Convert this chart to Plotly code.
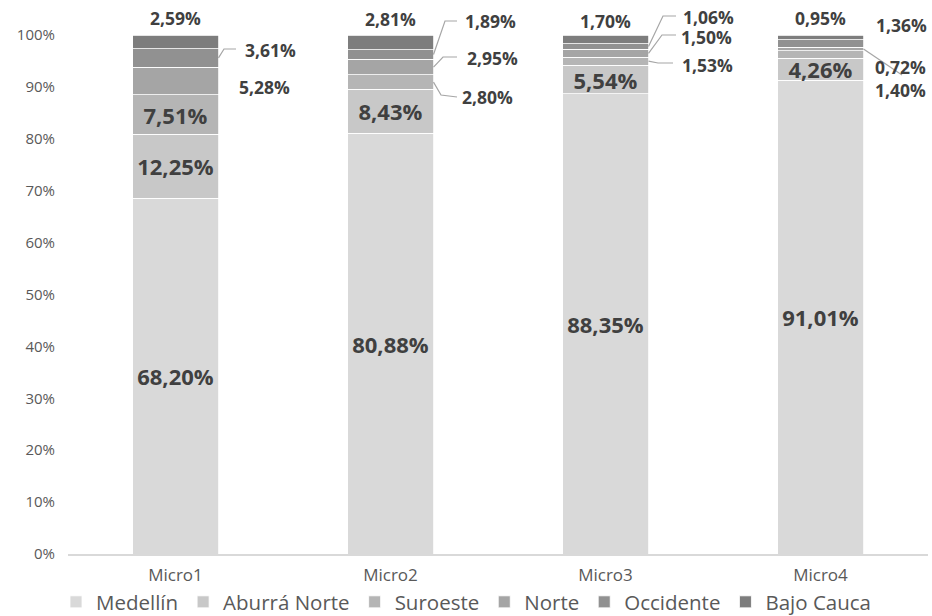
import plotly.graph_objects as go

# ---------------- data ----------------
categories = ["Micro1", "Micro2", "Micro3", "Micro4"]
series_names = ["Medellín", "Aburrá Norte", "Suroeste", "Norte", "Occidente", "Bajo Cauca"]
medellin = [68.20, 80.88, 88.35, 91.01]
aburra_norte = [12.25, 8.43, 5.54, 4.26]
suroeste = [7.51, 2.80, 1.53, 1.40]
norte = [5.28, 2.95, 1.50, 0.72]
occidente = [3.61, 1.89, 1.06, 1.36]
bajo_cauca = [2.59, 2.81, 1.70, 0.95]
y_ticks = [0, 10, 20, 30, 40, 50, 60, 70, 80, 90, 100]

series_values = [medellin, aburra_norte, suroeste, norte, occidente, bajo_cauca]

# ---------------- style ----------------
colors = ["#d9d9d9", "#c8c8c8", "#b5b5b5", "#a5a5a5", "#919191", "#7d7d7d"]
LABEL_COLOR = "#404040"
AXIS_TEXT = "#595959"
LINE_COLOR = "#a6a6a6"

W, H = 932, 616
ML, MR, MT, MB = 68, 4, 35, 62
plot_w = W - ML - MR
plot_h = H - MT - MB
ncat = len(categories)


def px_to_paper_x(px):
    return (px - ML) / plot_w


def py_to_paper_y(py):
    return (H - MB - py) / plot_h


def fmt(v):
    return f"{v:.2f}".replace(".", ",") + "%"


# label placements (pixel positions) for labels drawn outside the bars
outside = {
    ("Bajo Cauca", 0): ((175, 18), None),
    ("Occidente", 0): ((270, 50), [(224, 49), (236, 49)]),
    ("Norte", 0): ((264, 87), None),
    ("Bajo Cauca", 1): ((390, 19), None),
    ("Occidente", 1): ((490, 21), [(445, 21), (457, 21)]),
    ("Norte", 1): ((492, 58), [(443, 57), (457, 57)]),
    ("Suroeste", 1): ((487, 97), [(441, 95), (457, 97)]),
    ("Bajo Cauca", 2): ((605, 21), None),
    ("Occidente", 2): ((708, 17), [(663, 16), (676, 16)]),
    ("Norte", 2): ((706, 37), [(662, 35), (676, 35)]),
    ("Suroeste", 2): ((707, 65), [(658, 63), (673, 63)]),
    ("Bajo Cauca", 3): ((820, 18), None),
    ("Occidente", 3): ((901, 25), None),
    ("Norte", 3): ((900, 67), [(902, 75)]),
    ("Suroeste", 3): ((900, 90), None),
}

BAR_WIDTH_FRAC = 0.4
totals = [sum(s[i] for s in series_values) for i in range(ncat)]

fig = go.Figure()
for name, vals, col in zip(series_names, series_values, colors):
    texts = ["" if (name, i) in outside else fmt(v) for i, v in enumerate(vals)]
    fig.add_trace(go.Bar(
        name=name, x=categories, y=vals, text=texts,
        textposition="inside", insidetextanchor="middle", textangle=0,
        textfont=dict(family="Open Sans", size=22, color=LABEL_COLOR, weight="bold"),
        marker=dict(color=col, line=dict(color="white", width=0.8)),
        hoverinfo="name+y",
    ))

annotations = []
shapes = []
for si, (name, vals) in enumerate(zip(series_names, series_values)):
    for i, v in enumerate(vals):
        key = (name, i)
        if key not in outside:
            continue
        (lx, ly), pts = outside[key]
        annotations.append(dict(
            x=px_to_paper_x(lx), y=py_to_paper_y(ly), xref="paper", yref="paper",
            text=fmt(v), showarrow=False, xanchor="center", yanchor="middle",
            borderpad=0,
            font=dict(family="Open Sans", size=17.5, color=LABEL_COLOR, weight="bold"),
        ))
        if pts:
            lower = sum(series_values[k][i] for k in range(si)) / totals[i]
            mid = lower + v / totals[i] / 2
            edge_x = (i + 0.5 + BAR_WIDTH_FRAC / 2) / ncat
            path = f"M {edge_x},{mid}"
            for (qx, qy) in pts:
                path += f" L {px_to_paper_x(qx)},{py_to_paper_y(qy)}"
            shapes.append(dict(type="path", path=path, xref="paper", yref="paper",
                               line=dict(color=LINE_COLOR, width=1.2)))

fig.update_layout(
    width=W, height=H,
    margin=dict(l=ML, r=MR, t=MT, b=MB, pad=0, autoexpand=False),
    barmode="stack", barnorm="percent", bargap=1 - BAR_WIDTH_FRAC,
    plot_bgcolor="white", paper_bgcolor="white",
    uniformtext=dict(minsize=22, mode="show"),
    font=dict(family="Open Sans", color=AXIS_TEXT),
    xaxis=dict(showline=True, linecolor="#d9d9d9", linewidth=1.5, ticks="",
               showgrid=False, tickfont=dict(size=17, color=AXIS_TEXT),
               ticklabelstandoff=5, automargin=False),
    yaxis=dict(range=[0, 100], tickvals=y_ticks, ticktext=[f"{t}%" for t in y_ticks],
               showgrid=False, zeroline=False, showline=False, ticks="",
               tickfont=dict(size=15, color=AXIS_TEXT), ticklabelstandoff=12,
               automargin=False),
    legend=dict(orientation="h", xref="container", yref="paper",
                x=0.5, xanchor="center", y=py_to_paper_y(602), yanchor="middle",
                bgcolor="rgba(0,0,0,0)",
                font=dict(size=20.5, color=AXIS_TEXT), traceorder="normal",
                itemwidth=30, tracegroupgap=0),
    annotations=annotations, shapes=shapes,
    showlegend=True,
)

fig.write_html(
    "out.html",
    config={"displayModeBar": False},
    post_script="document.body.style.margin='0';document.body.style.overflow='hidden';",
)
